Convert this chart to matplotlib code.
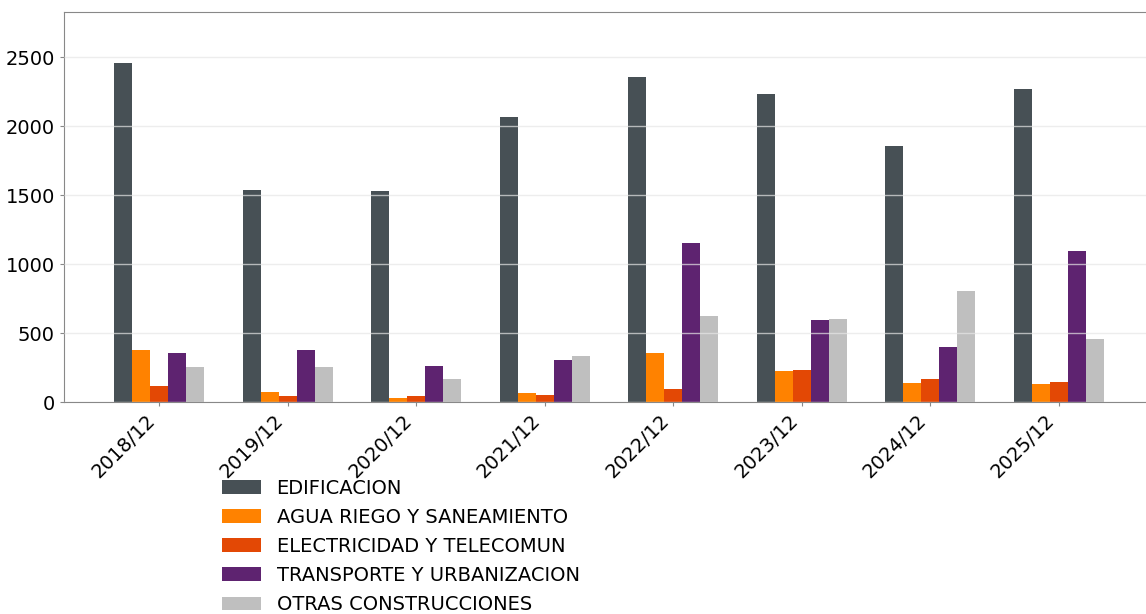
import numpy as np
import matplotlib.pyplot as plt

plt.rcParams['font.family'] = ['DejaVu Sans']

periodos = ['2018/12', '2019/12', '2020/12', '2021/12', '2022/12', '2023/12', '2024/12', '2025/12']
series = ['EDIFICACION', 'AGUA RIEGO Y SANEAMIENTO', 'ELECTRICIDAD Y TELECOMUN',
          'TRANSPORTE Y URBANIZACION', 'OTRAS CONSTRUCCIONES']

edificacion = [2459, 1539, 1529, 2070, 2357, 2234, 1855, 2268]
agua = [377, 72, 31, 65, 360, 225, 140, 130]
electricidad = [116, 48, 43, 53, 99, 234, 167, 145]
transporte = [355, 382, 263, 304, 1152, 599, 399, 1094]
otras = [256, 256, 171, 336, 626, 606, 809, 457]

colores = ['#475055', '#ff8200', '#e34805', '#5e2370', '#bfbfbf']

valores = [edificacion, agua, electricidad, transporte, otras]

fig = plt.figure(figsize=(11.46, 6.14), dpi=100)
ax = fig.add_axes([0.0558, 0.345, 0.951, 0.635])

x = np.arange(len(periodos))
ancho = 0.14
for i, (nombre, vals) in enumerate(zip(series, valores)):
    ax.bar(x + (i - 2) * ancho, vals, ancho, color=colores[i], label=nombre, zorder=1)

ax.set_xlim(-0.74, 7.74)
ax.set_ylim(0, max(edificacion) * 1.15)
ax.set_yticks([0, 500, 1000, 1500, 2000, 2500])
# rejilla por encima de las barras, como en el original
ax.grid(axis='y', color='#e6e6e6', linewidth=1, alpha=0.7, zorder=2)
ax.set_axisbelow(False)

ax.set_xticks(x)
ax.set_xticklabels(periodos, rotation=45, ha='right', fontsize=14)
ax.tick_params(axis='y', labelsize=14, length=3, color='#888888')
ax.tick_params(axis='x', length=3, color='#888888')
for s in ax.spines.values():
    s.set_color('#888888')

fig.legend(loc='upper left', bbox_to_anchor=(0.187, 0.233), frameon=False,
           fontsize=14, labelspacing=0.52, borderaxespad=0)

fig.savefig('out.png', dpi=100)
